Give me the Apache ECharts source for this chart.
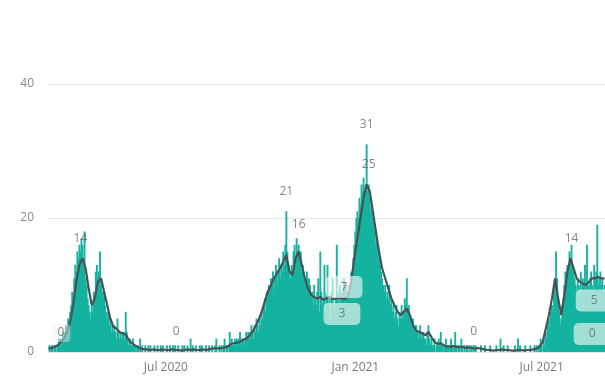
<!DOCTYPE html>
<html><head><meta charset="utf-8">
<script src="https://cdn.jsdelivr.net/npm/echarts@6/dist/echarts.min.js"></script>
<style>html,body{margin:0;padding:0;background:#fff}#c{width:605px;height:384px}</style>
</head><body><div id="c"></div>
<script>
// ---- data (daily counts) ----
const startDate = '2020-03-09';
const mar2020 = [0,1,0,1,1,0,1,1,0,1,2,1,2,1,3,2,3,4,3,5,4,6,7];
const apr2020 = [9,8,11,13,12,15,14,16,15,17,16,13,18,11,10,8,7,6,5,7,6,9,8,12,13,11,12,15,10,9];
const may2020 = [8,9,7,6,5,6,4,5,3,4,3,4,3,2,5,3,2,3,2,3,3,2,6,3,2,1,2,1,1,2,1];
const jun2020 = [1,0,1,1,0,2,0,1,0,0,1,0,0,1,0,1,0,0,0,1,0,0,1,0,0,1,0,1,0,0];
const jul2020 = [0,1,0,0,1,0,0,1,0,1,0,0,1,0,0,0,1,0,1,0,0,1,0,0,2,0,1,0,0,1,0];
const aug2020 = [0,0,1,0,1,0,0,0,1,0,0,1,0,0,1,0,0,1,2,0,0,1,0,1,0,1,2,0,1,1,0];
const sep2020 = [3,1,2,1,1,2,1,2,1,2,3,1,2,2,1,2,3,2,3,2,3,4,3,2,4,3,5,4,3,5];
const oct2020 = [4,6,5,7,8,6,9,8,10,9,11,10,12,9,11,13,10,12,14,11,13,12,15,13,16,21,15,13,12,11,13];
const nov2020 = [12,15,16,13,17,15,16,14,15,12,13,12,11,10,12,9,11,10,8,9,7,10,8,7,9,11,6,15,9,7];
const dec2020 = [8,13,6,9,13,7,8,5,9,11,7,6,8,16,9,7,10,6,9,8,11,7,10,9,8,10,9,12,11,14,16];
const jan2021 = [18,20,21,20,23,22,25,24,26,23,25,31,24,25,23,21,22,20,19,18,16,17,14,15,13,12,11,10,9,10,8];
const feb2021 = [9,8,10,7,8,6,7,5,6,7,5,4,6,5,7,5,6,8,7,11,6,7,5,5,4,5,3,4];
const mar2021 = [4,3,2,3,4,2,3,3,2,2,1,3,4,2,1,2,1,1,2,0,1,1,2,1,3,1,1,0,1,2,1];
const apr2021 = [1,0,1,2,1,0,1,3,1,0,1,1,0,2,1,0,1,0,1,1,0,1,0,1,0,1,0,1,0,0];
const may2021 = [0,0,1,0,0,0,1,0,0,0,0,1,0,0,0,0,0,1,0,0,0,2,0,0,1,0,0,0,1,0,0];
const jun2021 = [0,0,0,0,1,0,0,2,0,1,0,0,0,0,1,0,0,0,0,1,0,0,0,1,0,1,0,1,1,2];
const jul2021 = [1,0,2,1,3,2,4,5,4,6,7,6,9,10,15,11,8,6,4,5,7,8,10,12,11,13,12,15,14,16,13];
const aug2021 = [12,11,10,9,11,10,8,12,9,11,10,13,9,16,10,9,11,12,10,9,13,11,12,19,10,11,12,10,11,9,10];

// moving-average line, one value every 3 days from startDate
const lineStep = 3;
const lineValues = [0.5,0.6,0.8,1,1.5,2,3,4.5,7,10.5,13,14,12.5,9.5,7,8,10.5,11,9,7,5,3.8,3.5,3,2.8,2.6,1.8,1.3,1,0.7,
0.5,0.4,0.4,0.3,0.4,0.3,0.3,0.4,0.3,0.3,0.4,0.3,0.3,0.2,0.3,0.4,0.3,0.4,0.3,0.3,
0.4,0.3,0.4,0.5,0.6,0.5,0.6,0.7,0.8,1.2,1.3,1.4,1.5,1.8,2,2.4,3,3.8,4.8,6,
7.5,9,10,11,11.8,12.5,13.5,14.5,12,11.5,14,15,13,11,9.5,8.5,8.2,8,8.2,7.8,
8,8.3,7.9,8,8.1,8,7.9,8.3,10.5,14,17,20,23,25,24,21,18,15,12.5,11,
9.5,8,7,6,5.5,6,6.5,5.5,4,3.2,3,2.8,2.5,3,2.2,1.5,1.2,1.3,1,0.8,
0.8,0.9,0.8,0.7,0.8,0.6,0.7,0.6,0.5,0.6,0.5,0.4,0.3,0.3,0.2,0.3,0.3,0.4,0.3,0.3,
0.2,0.2,0.3,0.3,0.2,0.3,0.3,0.4,0.5,0.8,1.5,3.5,5.5,8,11,8,5.5,8.5,12,14,
12.5,11,10.5,10.2,10,10.5,11,11,11.2,11,11];

// data labels: [date, value, style] (0 plain, 1 faint box, 2 box)
const dataLabels = [
  ['2020-03-21', 0, 1],
  ['2020-04-09', 14, 0],
  ['2020-07-11', 0, 0],
  ['2020-10-26', 21, 0],
  ['2020-11-07', 16, 0],
  ['2021-01-12', 31, 0],
  ['2021-01-14', 25, 0],
  ['2020-12-21', 7, 2],
  ['2020-12-19', 3, 2],
  ['2021-04-26', 0, 0],
  ['2021-07-30', 14, 0],
  ['2021-08-21', 5, 2],
  ['2021-08-19', 0, 2]
];

const tickDates = ['2020-07-01', '2021-01-01', '2021-07-01'];
const tickLabels = ['Jul 2020', 'Jan 2021', 'Jul 2021'];
const yTicks = [0, 20, 40];

// ---- build ----
const dailyValues = [].concat(mar2020, apr2020, may2020, jun2020, jul2020, aug2020, sep2020, oct2020,
  nov2020, dec2020, jan2021, feb2021, mar2021, apr2021, may2021, jun2021, jul2021, aug2021);
function pad(n){return n<10?'0'+n:''+n;}
const dates = [];
{
  const d = new Date(startDate + 'T00:00:00Z');
  for (let i = 0; i < dailyValues.length; i++) {
    dates.push(d.getUTCFullYear() + '-' + pad(d.getUTCMonth()+1) + '-' + pad(d.getUTCDate()));
    d.setUTCDate(d.getUTCDate() + 1);
  }
}
const lineData = lineValues.map((v, i) => [i * lineStep, v]).filter(p => p[0] < dates.length);
const labelsOf = s => dataLabels.filter(l => l[2] === s).map(l => [dates.indexOf(l[0]), l[1]]);
const tickIdx = tickDates.map(t => dates.indexOf(t));

const FONT = '"Open Sans", "DejaVu Sans", sans-serif';
const labelBase = {show: true, position: 'top', formatter: p => p.value[1],
  color: '#666', fontSize: 12, fontFamily: FONT};
const chart = echarts.init(document.getElementById('c'), null, {renderer: 'canvas'});
chart.setOption({
  animation: false,
  grid: {left: 48, right: 0, top: 84, bottom: 32, containLabel: false},
  xAxis: {
    type: 'category', data: dates, boundaryGap: true,
    axisLine: {show: false}, axisTick: {show: false},
    axisLabel: {
      interval: (i) => tickIdx.indexOf(i) >= 0,
      formatter: (v, i) => { const k = tickIdx.indexOf(i); return k >= 0 ? tickLabels[k] : ''; },
      color: '#7a7a7a', fontSize: 12, fontFamily: FONT, margin: 10
    },
    splitLine: {show: false}
  },
  yAxis: {
    type: 'value', min: yTicks[0], max: yTicks[yTicks.length-1], interval: yTicks[1]-yTicks[0],
    axisLine: {show: false}, axisTick: {show: false},
    axisLabel: {color: '#8a8a8a', fontSize: 12, fontFamily: FONT, margin: 14},
    splitLine: {lineStyle: {color: '#e6e6e6', width: 1}}
  },
  series: [
    {type: 'bar', data: dailyValues, barWidth: 1.9, itemStyle: {color: '#14b3a0'}, z: 2},
    {type: 'line', data: lineData, showSymbol: false, symbol: 'none',
     lineStyle: {color: '#465254', width: 2.2}, z: 3},
    {type: 'scatter', data: labelsOf(0), symbolSize: 0, z: 5,
     label: Object.assign({}, labelBase, {distance: 14})},
    {type: 'scatter', data: labelsOf(1), symbolSize: 0, z: 5,
     label: Object.assign({}, labelBase, {distance: 10,
       backgroundColor: 'rgba(236,242,241,0.55)', borderRadius: 4, padding: [3, 6]})},
    {type: 'scatter', data: labelsOf(2), symbolSize: 0, z: 6,
     label: Object.assign({}, labelBase, {distance: 7,
       backgroundColor: 'rgba(240,246,245,0.82)', borderRadius: 5, padding: [5, 15]})}
  ]
});
</script></body></html>
